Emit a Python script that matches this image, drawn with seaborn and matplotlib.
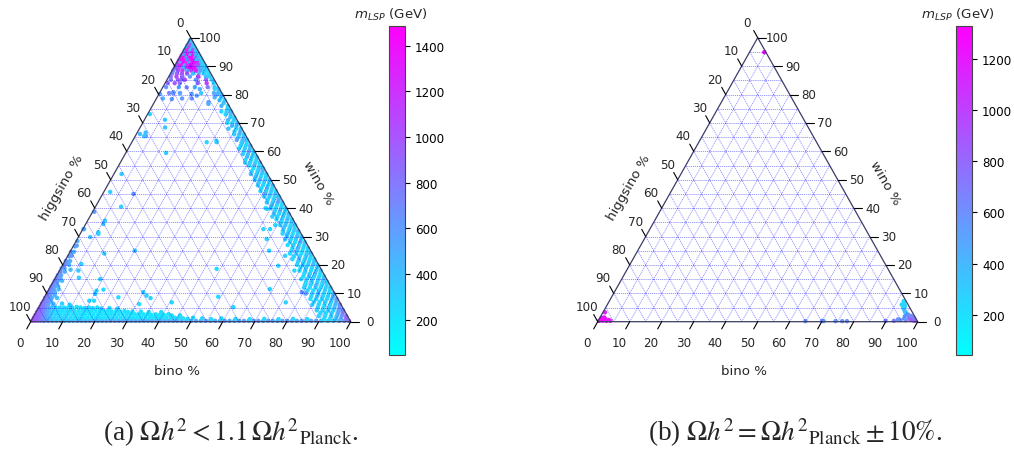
import numpy as np
import pandas as pd
import matplotlib
matplotlib.use("Agg")
import matplotlib.pyplot as plt
import seaborn as sns
from matplotlib.colors import Normalize
from matplotlib.cm import ScalarMappable

# ---------------- data: m_LSP (GeV) ----------------
# top corner (wino-like), rows: (wino %, [bino % ...], [m_LSP ...])
a_top_rows = [
    (99.2, [0.3], [420]),
    (98.3, [0.4, 1.2], [520, 380]),
    (97.4, [0.3, 1.2, 2.1], [600, 900, 380]),
    (96.5, [0.4, 1.3, 2.2, 3.0], [380, 1100, 500, 340]),
    (95.6, [0.3, 1.2, 2.1, 3.0, 3.9], [700, 1300, 420, 1000, 320]),
    (94.7, [0.4, 1.3, 2.2, 3.1, 4.0, 4.8], [400, 1350, 900, 1400, 500, 300]),
    (93.8, [0.3, 1.2, 2.1, 3.0, 3.9, 4.8, 5.7], [1050, 450, 1460, 600, 1300, 380, 300]),
    (92.9, [0.4, 1.3, 2.2, 3.1, 4.0, 4.9, 5.8, 6.6], [1200, 1400, 500, 1380, 1480, 700, 560, 320]),
    (92.0, [0.3, 1.2, 2.1, 3.0, 3.9, 4.8, 5.7, 6.6, 7.5], [900, 1450, 1350, 450, 1300, 1420, 380, 480, 300]),
    (91.1, [0.4, 1.3, 2.2, 3.1, 4.0, 4.9, 5.8, 6.7, 7.6, 8.4],
     [1150, 600, 1460, 1250, 400, 1350, 1440, 1300, 400, 280]),
    (90.2, [0.3, 1.2, 2.1, 3.0, 3.9, 4.8, 5.7, 6.6, 7.5, 8.4, 9.3],
     [800, 1300, 1420, 500, 1200, 1460, 1380, 1000, 1100, 350, 260]),
    (89.3, [0.4, 1.6, 3.0, 4.2, 5.4, 6.6, 7.8, 9.0, 10.2], [820, 1100, 400, 1350, 1480, 1400, 600, 420, 280]),
    (88.4, [0.3, 1.8, 3.2, 4.6, 6.0, 7.4, 8.8, 10.0, 11.0], [750, 1000, 1150, 500, 1200, 1350, 600, 320, 260]),
    (87.4, [0.5, 2.0, 3.6, 5.2, 7.0, 8.8, 10.4, 11.8], [700, 900, 1050, 950, 400, 480, 320, 260]),
    (86.3, [0.6, 2.4, 4.2, 6.6, 9.2, 11.6, 12.8], [820, 1100, 900, 600, 1150, 400, 300]),
    (85.2, [1.2, 3.4, 5.6, 9.0, 12.2, 14.0], [780, 950, 1050, 650, 900, 320]),
    (84.0, [0.8, 3.0, 4.6, 10.2, 13.0, 15.2], [900, 1000, 860, 900, 1100, 300]),
    (82.6, [1.0, 5.0, 10.0, 14.0, 16.2], [620, 520, 460, 800, 380]),
    (80.5, [3.0, 4.2, 6.4, 13.0, 17.0, 18.6], [700, 620, 560, 360, 520, 340]),
    (78.6, [2.0, 8.0, 11.0], [520, 600, 650]),
]

# right edge (bino-wino), rows: (wino %, [higgsino % ...], [m_LSP ...])
a_right_rows = [
    (82, [0.4, 1.5], [360, 300]), (81, [0.8], [420]), (80, [0.4, 1.8], [300, 500]),
    (79, [1.0, 3.0], [350, 480]), (78, [0.4, 2.0], [260, 320]), (77, [1.2], [400]),
    (76, [0.4, 2.4], [300, 450]), (75, [1.0], [260]), (74, [0.4, 1.8, 3.4], [350, 300, 260]),
    (73, [1.0, 2.6], [420, 300]), (72, [0.4, 1.6], [260, 360]), (71, [1.0, 2.8], [300, 450]),
    (70, [0.4, 2.0, 3.6], [400, 260, 300]), (69, [1.2, 2.6], [350, 500]),
    (68, [0.4, 1.8, 4.2], [300, 260, 350]), (67, [1.0, 2.8], [450, 300]),
    (66, [0.4, 1.8, 3.4], [260, 500, 300]), (65, [1.0, 2.6], [350, 260]),
    (64, [0.4, 1.8, 3.6], [300, 420, 550]), (63, [1.0, 2.6], [260, 350]),
    (62, [0.4, 1.8, 3.4], [450, 300, 260]), (61, [1.0, 2.6, 4.4], [380, 300, 260]),
    (60, [0.4, 1.8, 3.4], [300, 520, 350]), (59, [1.0, 2.6, 4.2], [260, 420, 300]),
    (58, [0.4, 1.8, 3.4], [350, 260, 480]), (57, [1.0, 2.6, 4.4], [300, 350, 260]),
    (56, [0.4, 1.8, 3.4, 5.0], [420, 300, 260, 350]), (55, [1.0, 2.6, 4.2], [260, 500, 300]),
    (54, [0.4, 1.8, 3.4], [300, 350, 260]), (53, [1.0, 2.6, 4.4], [450, 300, 260]),
    (52, [0.4, 1.8, 3.4, 5.2], [260, 380, 300, 420]), (51, [1.0, 2.6, 4.2], [300, 260, 350]),
    (50, [0.4, 1.8, 3.4, 5.0], [350, 300, 520, 260]), (49, [1.0, 2.6, 4.2], [260, 350, 300]),
    (48, [0.4, 1.8, 3.4, 5.0], [420, 260, 300, 350]), (47, [1.0, 2.6, 4.4], [300, 450, 260]),
    (46, [0.4, 1.8, 3.4, 5.2], [260, 350, 300, 260]), (45, [1.0, 2.6, 4.2], [380, 300, 500]),
    (44, [0.4, 1.8, 3.4, 5.0], [300, 260, 350, 300]), (43, [1.0, 2.6, 4.4], [450, 300, 260]),
    (42, [0.4, 1.8, 3.4, 5.2], [260, 600, 300, 350]), (41, [1.0, 2.6, 4.2], [300, 260, 420]),
    (40, [0.4, 1.8, 3.4, 5.0, 6.6], [350, 300, 260, 300, 260]), (39, [1.0, 2.6, 4.2], [260, 500, 300]),
    (38, [0.4, 1.8, 3.4, 5.0], [400, 300, 260, 350]), (37, [1.0, 2.6, 4.4, 6.0], [300, 350, 260, 300]),
    (36, [0.4, 1.8, 3.4, 5.2], [260, 450, 300, 260]), (35, [1.0, 2.6, 4.2], [350, 300, 260]),
    (34, [0.4, 1.8, 3.4, 5.0, 6.6], [300, 260, 420, 300, 260]), (33, [1.0, 2.6, 4.4], [260, 300, 350]),
    (32, [0.4, 1.8, 3.4, 5.2], [500, 300, 260, 300]), (31, [1.0, 2.6, 4.2, 5.8], [300, 260, 350, 260]),
    (30, [0.4, 1.8, 3.4, 5.0], [350, 420, 300, 260]), (29, [1.0, 2.6, 4.2, 6.0], [260, 300, 260, 350]),
    (28, [0.4, 1.8, 3.4, 5.0], [300, 550, 260, 300]), (27, [1.0, 2.6, 4.4, 6.2], [350, 260, 300, 260]),
    (26, [0.4, 1.8, 3.4, 5.2], [260, 300, 450, 260]), (25, [1.0, 2.6, 4.2, 6.0], [300, 260, 350, 300]),
    (24, [0.4, 1.8, 3.4, 5.0, 7.0], [400, 300, 260, 300, 260]), (23, [1.0, 2.6, 4.4, 6.2], [260, 350, 300, 260]),
    (22, [0.4, 1.8, 3.4, 5.2, 7.2], [300, 260, 300, 450, 260]), (21, [1.0, 2.6, 4.2, 6.0], [350, 300, 260, 300]),
    (20, [0.4, 1.8, 3.4, 5.0, 6.8], [260, 400, 300, 260, 300]), (19, [1.0, 2.6, 4.4, 6.2], [300, 260, 350, 260]),
    (18, [0.4, 1.8, 3.4, 5.2, 7.0, 8.6], [350, 300, 260, 300, 260, 300]),
    (17, [1.0, 2.6, 4.2, 6.0], [260, 450, 300, 260]),
    (16, [0.4, 1.8, 3.4, 5.0, 6.8], [300, 260, 300, 350, 260]),
    (15, [1.0, 2.6, 4.4, 6.2, 8.0], [400, 300, 260, 300, 260]),
    (14, [0.4, 1.8, 3.4, 5.2, 7.0], [260, 350, 300, 260, 300]),
    (13, [1.0, 2.6, 4.2, 6.0, 7.8], [300, 260, 450, 300, 260]),
    (12, [0.4, 1.8, 3.4, 5.0, 6.8, 8.6], [350, 300, 260, 300, 260, 300]),
    (11, [1.0, 2.6, 4.4, 6.2, 8.0], [260, 350, 300, 260, 300]),
    (10, [0.4, 1.8, 3.4, 5.2, 7.0, 9.0], [420, 300, 260, 300, 260, 350]),
    (9, [1.0, 2.6, 4.2, 6.0, 7.8], [500, 300, 260, 350, 260]),
    (8, [0.4, 1.8, 3.4, 5.0, 6.8, 8.6], [600, 400, 300, 260, 300, 260]),
    (7, [1.0, 2.6, 4.4, 6.2, 8.0], [550, 350, 300, 260, 300]),
    (6, [0.4, 1.8, 3.4, 5.2, 7.0, 9.0], [700, 450, 300, 260, 300, 260]),
    (5, [1.0, 2.6, 4.2, 6.0, 7.8], [650, 400, 300, 260, 300]),
    (4, [0.4, 1.8, 3.4, 5.0, 6.8, 8.6], [750, 550, 350, 300, 260, 300]),
    (3, [1.0, 2.6, 4.4, 6.2, 8.0], [800, 500, 300, 260, 300]),
    (2, [0.4, 1.8, 3.4, 5.2, 7.0, 9.0], [850, 650, 400, 300, 260, 300]),
    (1, [1.0, 2.6, 4.2, 6.0, 7.8], [900, 600, 350, 300, 260]),
    (0.3, [0.4, 1.8, 3.4, 5.2, 7.0, 9.0], [850, 700, 450, 300, 260, 300]),
]

# bottom edge (bino-higgsino), rows: (bino %, [wino % ...], [m_LSP ...])
a_bottom_rows = [
    (4.0, [0.3, 1.4, 2.6, 3.8, 5.0, 6.2], [650, 560, 480, 420, 380, 340]),
    (5.3, [0.3, 1.4, 2.6, 3.8, 5.0], [520, 420, 360, 300, 280]),
    (6.6, [0.3, 1.4, 2.6, 3.8, 5.0, 6.4], [420, 300, 260, 240, 260, 300]),
    (7.9, [0.3, 1.4, 2.6, 3.8, 5.0], [380, 260, 230, 220, 240]),
    (9.2, [0.3, 1.4, 2.6, 3.8, 5.0, 6.0], [400, 240, 210, 220, 230, 260]),
    (10.5, [0.3, 1.4, 2.6, 3.8, 5.0], [360, 220, 200, 210, 230]),
    (11.8, [0.3, 1.4, 2.6, 3.8, 5.2], [420, 230, 200, 220, 240]),
    (13.1, [0.3, 1.4, 2.6, 3.8, 5.0], [380, 210, 200, 200, 230]),
    (14.4, [0.3, 1.4, 2.6, 3.8, 4.8], [440, 220, 200, 210, 220]),
    (15.7, [0.3, 1.4, 2.6, 3.8, 5.0], [400, 210, 190, 200, 220]),
    (17.0, [0.3, 1.4, 2.6, 3.8, 4.8], [460, 200, 190, 210, 230]),
    (18.3, [0.3, 1.4, 2.6, 3.8, 5.0], [420, 210, 200, 190, 220]),
    (19.6, [0.3, 1.4, 2.6, 3.8, 4.6], [480, 200, 190, 200, 230]),
    (20.9, [0.3, 1.4, 2.6, 3.8], [440, 210, 200, 220]),
    (22.2, [0.3, 1.4, 2.6, 3.8, 4.8], [500, 200, 190, 200, 240]),
    (23.5, [0.3, 1.4, 2.6, 3.6], [460, 210, 200, 220]),
    (24.8, [0.3, 1.4, 2.6, 3.8, 4.6], [520, 200, 190, 210, 230]),
    (26.1, [0.3, 1.4, 2.6, 3.6], [480, 210, 200, 220]),
    (27.4, [0.3, 1.4, 2.6, 3.8], [540, 200, 190, 210]),
    (28.7, [0.3, 1.4, 2.6, 3.4], [500, 210, 200, 220]),
    (30.0, [0.3, 1.4, 2.6, 3.6], [520, 200, 190, 210]),
    (31.3, [0.3, 1.4, 2.6], [480, 210, 200]),
    (32.6, [0.3, 1.4, 2.6, 3.6], [540, 200, 210, 220]),
    (33.9, [0.3, 1.4, 2.6], [500, 210, 200]),
    (35.2, [0.3, 1.4, 2.6, 3.4], [520, 200, 190, 220]),
    (36.5, [0.3, 1.4, 2.4], [480, 210, 200]),
    (37.8, [0.3, 1.4, 2.6], [540, 200, 210]),
    (39.1, [0.3, 1.4, 2.4, 3.4], [500, 210, 200, 230]),
    (40.4, [0.3, 1.4, 2.4], [520, 200, 210]),
    (41.7, [0.3, 1.4, 2.6], [500, 210, 200]),
    (43.0, [0.3, 1.4, 2.2], [540, 200, 220]),
    (44.3, [0.3, 1.4], [500, 210]),
    (45.6, [0.3, 1.4, 2.2], [520, 220, 230]),
    (47.0, [0.3, 1.2], [540, 230]), (48.5, [0.3, 1.0], [560, 240]), (50.0, [0.3, 1.4], [520, 220]),
    (51.5, [0.3], [560]), (53.0, [0.3, 1.2], [540, 250]), (54.5, [0.3], [580]),
    (56.0, [0.3, 0.9], [540, 260]), (57.5, [0.3], [560]), (59.0, [0.3, 1.2], [520, 240]),
    (60.5, [0.3], [580]), (62.0, [0.3], [540]), (63.5, [0.3, 1.0], [560, 260]),
    (65.0, [0.3], [520]), (66.5, [0.3], [580]), (68.0, [0.3, 0.9], [540, 260]),
    (69.5, [0.3], [560]), (71.0, [0.3], [600]), (72.5, [0.3, 1.0], [540, 260]),
    (74.0, [0.3], [560]), (75.5, [0.3], [520]), (77.0, [0.3, 0.9], [580, 280]),
    (78.5, [0.3], [540]), (80.0, [0.3], [560]), (81.5, [0.3, 1.0], [600, 260]),
    (83.0, [0.3], [540]), (84.5, [0.3], [560]), (86.0, [0.3, 0.9], [520, 280]),
    (87.5, [0.3], [580]), (89.0, [0.3], [540]),
]

# left edge (higgsino-wino), rows: (wino %, [bino % ...], [m_LSP ...])
a_left_rows = [
    (0.4, [0.3, 1.2, 2.1, 3.0], [1050, 980, 900, 820]),
    (1.4, [0.3, 1.2, 2.1, 3.0, 4.0], [1000, 950, 850, 700, 560]),
    (2.4, [0.3, 1.2, 2.1, 3.2], [980, 900, 800, 600]),
    (3.4, [0.3, 1.2, 2.2, 3.4], [950, 880, 720, 500]),
    (4.4, [0.3, 1.3, 2.4, 3.6], [920, 820, 650, 460]),
    (5.4, [0.4, 1.4, 2.6], [900, 780, 600]),
    (6.4, [0.3, 1.3, 2.4, 3.8], [880, 740, 560, 420]),
    (7.4, [0.4, 1.4, 2.6], [850, 700, 520]),
    (8.4, [0.3, 1.3, 2.4, 4.0], [820, 680, 500, 380]),
    (9.4, [0.4, 1.4, 2.8], [800, 640, 480]),
    (10.4, [0.3, 1.3, 2.4], [780, 620, 460]),
    (11.4, [0.4, 1.5, 3.0], [760, 600, 420]),
    (12.4, [0.3, 1.3, 2.4], [740, 580, 440]),
    (13.4, [0.4, 1.5], [720, 560]),
    (14.4, [0.3, 1.3, 2.6], [700, 600, 420]),
    (15.4, [0.4, 1.6], [760, 520]),
    (16.4, [0.3, 1.3], [680, 560]),
    (17.6, [0.5, 1.8], [740, 480]),
    (18.8, [0.3, 1.2], [660, 520]),
    (20.0, [0.6, 2.0], [700, 440]),
    (21.4, [0.3, 1.6], [640, 480]),
    (23.0, [0.5], [620]),
    (24.6, [0.3, 1.2], [600, 450]),
    (26.5, [0.6], [520]),
    (28.4, [0.4], [480]),
]

# isolated points inside the triangle: (bino %, wino %, m_LSP)
a_interior = [
    (12.6, 59.4, 320), (3.3, 65.4, 560), (2.6, 66.6, 420), (9.6, 45.0, 620), (2.0, 45.7, 300), (0.5, 38.7, 580),
    (0.4, 32.6, 400), (3.7, 29.8, 360), (5.7, 30.9, 300), (5.4, 35.6, 320), (0.7, 73.1, 300), (6.4, 71.1, 360),
    (6.4, 80.5, 560), (4.2, 80.8, 620), (4.5, 85.5, 900), (11.9, 81.9, 500), (12.1, 79.6, 600), (16.9, 77.3, 560),
    (23.4, 63.2, 300), (26.5, 63.2, 320), (56.4, 32.6, 300), (54.0, 39.7, 260), (48.8, 18.6, 260), (54.2, 8.8, 240),
    (60.8, 5.1, 260), (69.0, 11.5, 260), (76.3, 6.8, 300), (79.5, 10.4, 620), (81.0, 10.0, 560), (7.3, 15.5, 300),
    (15.1, 10.9, 260), (14.6, 7.4, 240), (16.1, 7.4, 260), (30.8, 6.2, 240), (33.3, 8.3, 300), (40.7, 6.8, 260),
    (14.2, 15.0, 280), (17.1, 11.3, 240), (23.1, 8.6, 260), (31.6, 9.2, 300), (5.5, 34.4, 360), (5.4, 31.5, 300),
    (5.7, 20.3, 300), (5.9, 18.0, 340), (3.3, 18.3, 400),
    (1.1, 66.1, 420), (2.8, 65.3, 380), (0.3, 80.2, 520), (7.8, 68.4, 360), (4.9, 78.4, 600), (7.5, 82.5, 700),
    (10.2, 80.2, 560), (17.2, 76.7, 520), (26.2, 63.7, 300), (0.2, 32.6, 520), (1.0, 26.8, 560), (1.2, 23.2, 600),
    (0.8, 20.9, 620), (15.2, 9.8, 260), (30.0, 10.4, 280), (59.2, 29.1, 300), (58.5, 32.6, 280), (67.9, 23.2, 300),
    (67.5, 19.7, 260), (62.0, 25.0, 280), (2.4, 52.0, 340), (8.0, 40.5, 300), (20.0, 25.0, 260), (11.0, 24.0, 300),
]

# panel (b): (bino %, wino %, m_LSP)
b_points = [
    (4.6, 94.9, 1300),
    (0.3, 0.3, 1250), (0.8, 0.8, 1280), (1.4, 0.4, 1300), (2.0, 0.9, 1240), (2.6, 0.3, 1220), (3.2, 0.6, 1260),
    (3.8, 0.3, 1200), (0.5, 1.4, 1290), (1.3, 1.5, 1230), (0.6, 3.3, 1150),
    (64.8, 0.2, 560), (70.0, 0.3, 520), (70.5, 0.2, 560), (74.2, 0.2, 540), (76.3, 0.2, 600), (77.8, 0.2, 560),
    (89.8, 0.3, 650), (92.4, 0.3, 700), (93.4, 0.8, 600),
    (92.0, 7.2, 240), (92.4, 6.5, 200), (92.9, 6.0, 230), (92.0, 6.0, 260), (93.3, 5.4, 300), (93.0, 4.9, 220),
    (93.6, 4.3, 320), (94.2, 3.6, 420), (94.8, 3.0, 300), (95.0, 2.0, 480), (95.8, 2.5, 600), (96.4, 1.6, 700),
    (97.0, 1.0, 800), (97.6, 0.8, 860), (98.2, 0.5, 900), (98.4, 1.0, 760), (99.0, 0.3, 820), (96.0, 0.5, 660),
    (95.2, 1.2, 520), (94.2, 0.6, 560), (97.0, 2.0, 620), (98.0, 1.4, 700),
]

a_range = (47, 1485)
b_range = (44, 1328)
axis_ticks = list(range(0, 101, 10))
grid_levels = list(range(5, 100, 5))
captions = [r"(a) $\Omega h^2 < 1.1\,\Omega {h^2}_{\mathrm{Planck}}$.",
            r"(b) $\Omega h^2 = \Omega {h^2}_{\mathrm{Planck}} \pm 10\%$."]

# ---------------- assemble (bino, wino, m) records ----------------
records = []
for w, bs, ms in a_top_rows:
    records += [(b, w, m) for b, m in zip(bs, ms)]
for w, hs, ms in a_right_rows:
    records += [(100 - w - h, w, m) for h, m in zip(hs, ms)]
for b, ws, ms in a_bottom_rows:
    records += [(b, w, m) for w, m in zip(ws, ms)]
for w, bs, ms in a_left_rows:
    records += [(b, w, m) for b, m in zip(bs, ms)]
records += a_interior

S3 = np.sqrt(3) / 2


def to_xy(b, w):
    b = np.asarray(b, float)
    w = np.asarray(w, float)
    return b + w / 2, w * S3


def frame(rows):
    arr = np.array(rows, float)
    x, y = to_xy(arr[:, 0], arr[:, 1])
    return pd.DataFrame({"x": x, "y": y, "m": arr[:, 2]})


df_a = frame(records)
df_b = frame(b_points)

sns.set_style("white")
plt.rcParams["font.family"] = ["DejaVu Sans"]
plt.rcParams["mathtext.fontset"] = "dejavusans"

W, H = 1014, 452
fig = plt.figure(figsize=(W / 100, H / 100), dpi=100)

PX_X = 3.2
PX_Y = 284 / (100 * S3)
XL = (-8, 108)
YL = (-12, 92)
FS_TICK = 8.6
FS_LAB = 9.6


def draw_panel(x0, df, rng, cbar_x, label_x, caption, cap_x):
    left = x0 + XL[0] * PX_X
    bottom_px = 322.7 - YL[0] * PX_Y
    width = (XL[1] - XL[0]) * PX_X
    height = (YL[1] - YL[0]) * PX_Y
    ax = fig.add_axes([left / W, (H - bottom_px) / H, width / W, height / H])
    ax.set_xlim(*XL)
    ax.set_ylim(*YL)
    ax.axis("off")
    norm = Normalize(vmin=rng[0], vmax=rng[1])
    sns.scatterplot(data=df, x="x", y="y", hue="m", palette="cool", hue_norm=norm,
                    s=10, linewidth=0, legend=False, ax=ax, zorder=2)
    gkw = dict(color="blue", lw=0.6, alpha=0.45, ls=(0, (1.5, 1.0)), zorder=3)
    for k in grid_levels:
        ax.plot(*to_xy([0, 100 - k], [k, k]), **gkw)
        ax.plot(*to_xy([k, k], [0, 100 - k]), **gkw)
        ax.plot(*to_xy([100 - k, 0], [0, 100 - k]), **gkw)
    bx, by = to_xy([0, 100, 0, 0], [0, 0, 100, 0])
    ax.plot(bx, by, color="#3c3c66", lw=0.9, zorder=4)
    tkw = dict(color="black", lw=0.8, clip_on=False, zorder=4)
    for t in axis_ticks:
        x, y = to_xy(t, 0)
        ax.plot([x, x - 1.25], [y, y - 2.2], **tkw)
        ax.text(x - 3.3, y - 6.4, str(t), ha="center", va="center", fontsize=FS_TICK)
        x, y = to_xy(100 - t, t)
        ax.plot([x, x + 2.6], [y, y], **tkw)
        ax.text(x + 6.0, y, str(t), ha="center", va="center", fontsize=FS_TICK)
        x, y = to_xy(0, 100 - t)
        ax.plot([x, x - 1.25], [y, y + 2.2], **tkw)
        ax.text(x - 3.3, y + 4.7, str(t), ha="center", va="center", fontsize=FS_TICK)
    ax.text(45.7, -15.0, "bino %", ha="center", va="center", fontsize=FS_LAB)
    ax.text(9.8, 41.0, "higgsino %", ha="center", va="center", rotation=60, fontsize=FS_LAB)
    ax.text(89.8, 42.6, "wino %", ha="center", va="center", rotation=-60, fontsize=FS_LAB)

    cax = fig.add_axes([cbar_x / W, (H - 355.7) / H, 16.3 / W, 328.4 / H])
    cb = fig.colorbar(ScalarMappable(norm=norm, cmap="cool"), cax=cax)
    cb.outline.set_edgecolor("#444444")
    cb.outline.set_linewidth(0.8)
    cax.tick_params(labelsize=FS_TICK, length=3.5, width=0.8, colors="black")
    fig.text(label_x / W, 1 - 15 / H, r"$m_{LSP}$ (GeV)", ha="center", va="center", fontsize=FS_LAB)

    fig.text(cap_x / W, 1 - 433 / H, caption, ha="center", va="center", fontsize=19.5,
             family="Liberation Serif", math_fontfamily="stix")


draw_panel(30.7, df_a, a_range, 389, 391, captions[0], 231)
draw_panel(597.7, df_b, b_range, 956, 958, captions[1], 795)

fig.savefig("out.png", dpi=100)
